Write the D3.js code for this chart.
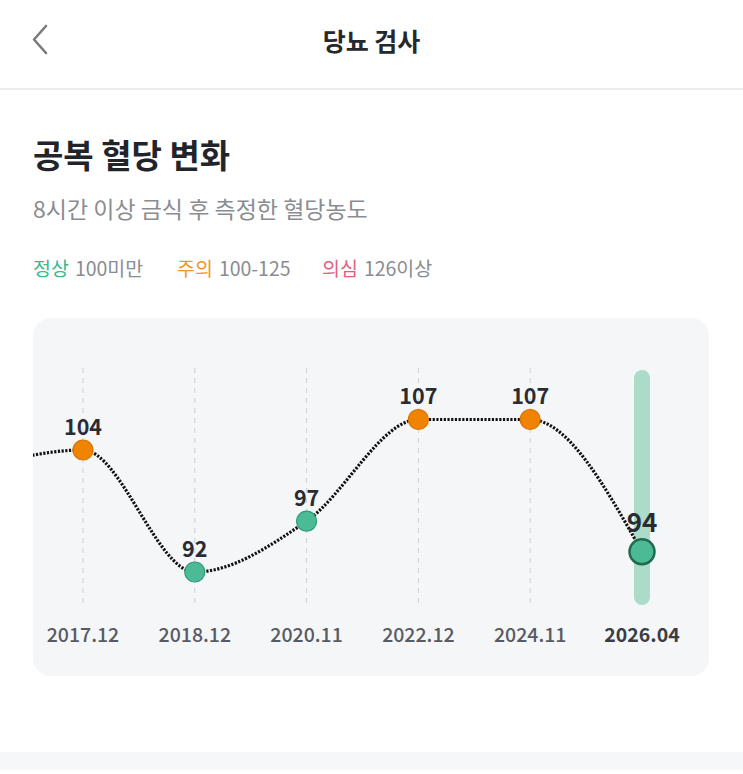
<!DOCTYPE html>
<html>
<head>
<meta charset="utf-8">
<script src="https://cdn.jsdelivr.net/npm/d3@7"></script>
<style>
  html, body { margin: 0; padding: 0; background: #fff; }
  svg { display: block; font-family: "Noto Sans CJK KR", "Noto Sans", sans-serif; }
</style>
</head>
<body>
<svg id="chart"></svg>
<script>
(() => {
// first point sits left of the card (scrolled out of view)
let dates = ['2016.12', '2017.12', '2018.12', '2020.11', '2022.12', '2024.11', '2026.04'];
let values = [102, 104, 92, 97, 107, 107, 94];
let legendNames = ['정상', '주의', '의심'];
let legendRanges = ['100미만', '100-125', '126이상'];

let width = 743,
    height = 774,
    card = { x: 33, y: 318, w: 676, h: 358, r: 18 },
    gridTop = 368,
    gridBottom = 605,
    labelY = 633;

let green = '#4cba95', greenStroke = '#2f9a77',
    orange = '#f08300', orangeStroke = '#d87400';

let svg = d3.select('#chart')
    .attr('width', width)
    .attr('height', height);

// header
svg.append('polyline')
    .attr('points', '46,26 34,39.5 46,53')
    .attr('fill', 'none')
    .attr('stroke', '#7a7a7a')
    .attr('stroke-width', 2.6)
    .attr('stroke-linecap', 'round')
    .attr('stroke-linejoin', 'round');

svg.append('text')
    .attr('x', width / 2)
    .attr('y', 40)
    .attr('text-anchor', 'middle')
    .attr('dominant-baseline', 'central')
    .attr('font-size', 25)
    .attr('font-weight', 600)
    .attr('fill', '#26282e')
    .text('당뇨 검사');

svg.append('rect')
    .attr('x', 0).attr('y', 88)
    .attr('width', width).attr('height', 2)
    .attr('fill', '#ececec');

// titles
svg.append('text')
    .attr('x', 33).attr('y', 154)
    .attr('dominant-baseline', 'central')
    .attr('font-size', 33)
    .attr('font-weight', 700)
    .attr('fill', '#22242b')
    .text('공복 혈당 변화');

svg.append('text')
    .attr('x', 33).attr('y', 208)
    .attr('dominant-baseline', 'central')
    .attr('font-size', 23)
    .attr('fill', '#8a8c91')
    .text('8시간 이상 금식 후 측정한 혈당농도');

let legendColors = ['#3fb68b', '#f0972a', '#e0627d'];
let legendX = [33, 177, 322];
let legend = svg.append('g');
legendNames.forEach((n, i) => {
  let t = legend.append('text')
      .attr('x', legendX[i]).attr('y', 267)
      .attr('dominant-baseline', 'central')
      .attr('font-size', 19.5);
  t.append('tspan').attr('fill', legendColors[i]).text(n);
  t.append('tspan').attr('fill', '#8a8c91').attr('dx', 6).text(legendRanges[i]);
});

// card
svg.append('rect')
    .attr('x', card.x).attr('y', card.y)
    .attr('width', card.w).attr('height', card.h)
    .attr('rx', card.r)
    .attr('fill', '#f5f6f8');

svg.append('clipPath').attr('id', 'cardClip')
  .append('rect')
    .attr('x', card.x).attr('y', card.y)
    .attr('width', card.w).attr('height', card.h)
    .attr('rx', card.r);

let plot = svg.append('g').attr('clip-path', 'url(#cardClip)');

let xScale = d3.scalePoint()
    .domain(dates)
    .range([83 - 111.8, 642]);

let yScale = d3.scaleLinear()
    .domain([92, 107])
    .range([572, 419.5]);

let last = dates[dates.length - 1];

// highlight bar for latest
plot.append('rect')
    .attr('x', xScale(last) - 8)
    .attr('y', gridTop + 2)
    .attr('width', 16)
    .attr('height', gridBottom - gridTop - 2)
    .attr('rx', 8)
    .attr('fill', '#aadcc9');

let pts = dates.map((d, i) => ({ date: d, value: values[i] }));
// only points inside the visible card get marks and labels
let shown = pts.filter(d => xScale(d.date) > card.x);

// dashed grid lines
plot.selectAll('line.grid')
    .data(shown.slice(0, -1))
    .enter()
    .append('line')
    .attr('class', 'grid')
    .attr('x1', d => xScale(d.date)).attr('x2', d => xScale(d.date))
    .attr('y1', gridTop).attr('y2', gridBottom)
    .attr('stroke', '#cfd1d5')
    .attr('stroke-width', 1)
    .attr('stroke-dasharray', '5,5');

let line = d3.line()
    .x(d => xScale(d.date))
    .y(d => yScale(d.value))
    .curve(d3.curveMonotoneX);

plot.append('path')
    .datum(pts)
    .attr('d', line)
    .attr('fill', 'none')
    .attr('stroke', '#111')
    .attr('stroke-width', 3.2)
    .attr('stroke-dasharray', '2.2,1.5');

plot.selectAll('circle.pt')
    .data(shown)
    .enter()
    .append('circle')
    .attr('class', 'pt')
    .attr('cx', d => xScale(d.date))
    .attr('cy', d => yScale(d.value))
    .attr('r', d => d.date === last ? 12.5 : 10)
    .attr('fill', d => d.value < 100 ? green : orange)
    .attr('stroke', d => d.date === last ? '#1e6b4d' : (d.value < 100 ? greenStroke : orangeStroke))
    .attr('stroke-width', d => d.date === last ? 2.5 : 1.2);

plot.selectAll('text.val')
    .data(shown)
    .enter()
    .append('text')
    .attr('class', 'val')
    .attr('x', d => xScale(d.date))
    .attr('y', d => yScale(d.value) - (d.date === last ? 31 : 25))
    .attr('text-anchor', 'middle')
    .attr('dominant-baseline', 'central')
    .attr('font-size', d => d.date === last ? 26 : 21.5)
    .attr('font-weight', 700)
    .attr('fill', '#2a2c34')
    .text(d => d.value);

plot.selectAll('text.xl')
    .data(shown)
    .enter()
    .append('text')
    .attr('class', 'xl')
    .attr('x', d => xScale(d.date))
    .attr('y', labelY)
    .attr('text-anchor', 'middle')
    .attr('dominant-baseline', 'central')
    .attr('font-size', 19.5)
    .attr('font-weight', d => d.date === last ? 700 : 500)
    .attr('fill', d => d.date === last ? '#3a3d45' : '#585b63')
    .text(d => d.date);

// bottom band
svg.append('rect')
    .attr('x', 0).attr('y', 752)
    .attr('width', width).attr('height', 18)
    .attr('fill', '#f6f7f9');
})();
</script>
</body>
</html>
